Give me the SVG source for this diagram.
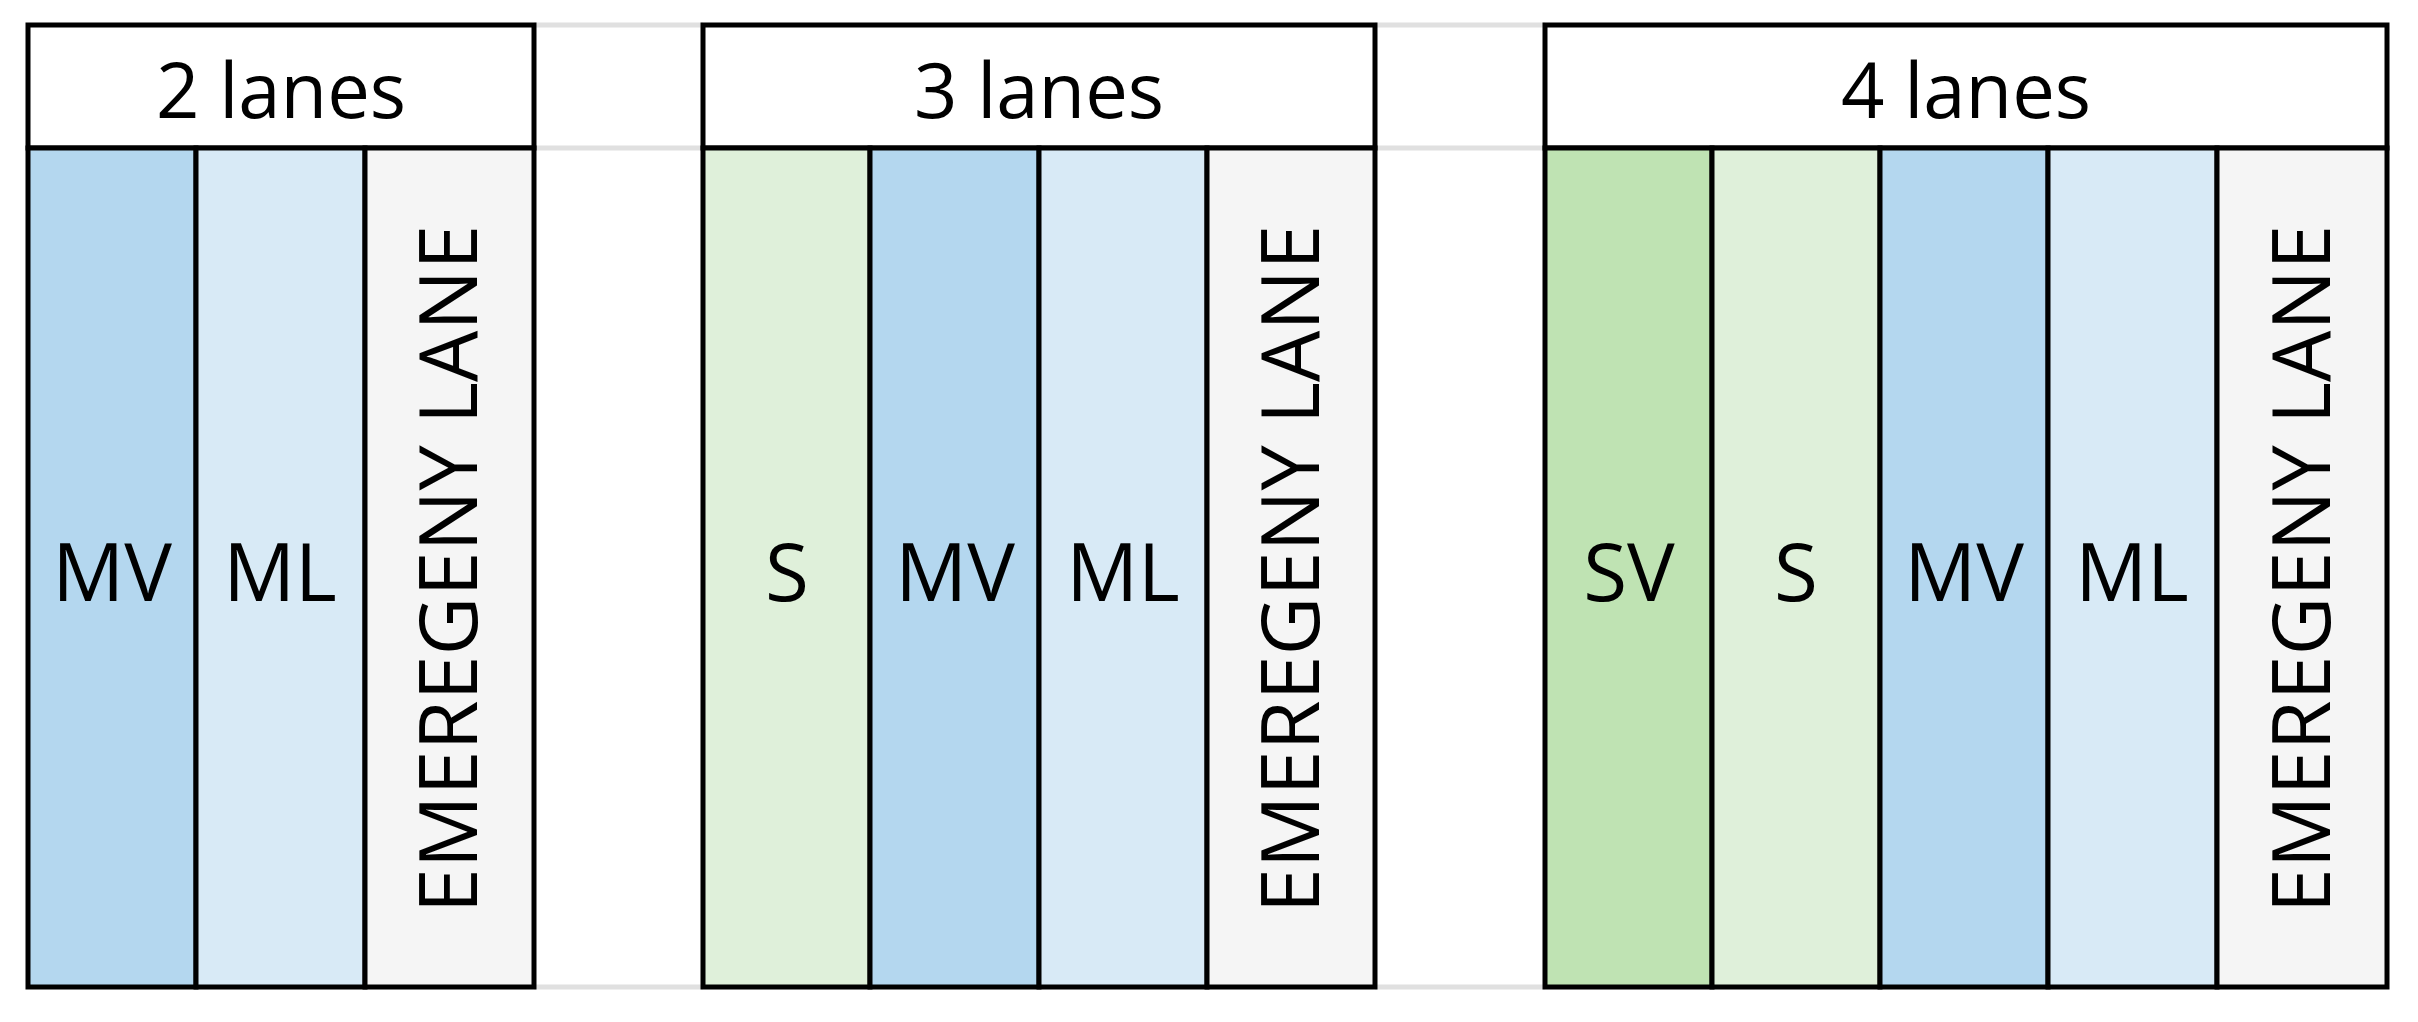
<svg xmlns="http://www.w3.org/2000/svg" width="2418" height="1022" viewBox="0 0 2418 1022">
<style>
.b{stroke:#000;stroke-width:5}
.g{stroke:#e0e0e0;stroke-width:5}
.t{font-family:"Open Sans","Liberation Sans",sans-serif;font-size:80px;fill:#000;text-anchor:middle}
.h{font-size:76px}
.e{font-size:81px}
.mv{fill:#b4d7ef}.ml{fill:#d8eaf6}.em{fill:#f5f5f5}.s{fill:#dff0da}.sv{fill:#bfe3b3}
</style>
<g id="connectors">
<line class="g" x1="534" y1="25" x2="703" y2="25"/><line class="g" x1="534" y1="148" x2="703" y2="148"/><line class="g" x1="534" y1="987" x2="703" y2="987"/>
<line class="g" x1="1375" y1="25" x2="1545" y2="25"/><line class="g" x1="1375" y1="148" x2="1545" y2="148"/><line class="g" x1="1375" y1="987" x2="1545" y2="987"/>
</g>
<g id="box1">
<rect x="28" y="25" width="506" height="123" fill="#fff" class="b"/>
<text class="t h" x="281" y="118">2 lanes</text>
<rect class="mv b" x="28" y="148" width="168" height="839"/>
<rect class="ml b" x="196" y="148" width="169" height="839"/>
<rect class="em b" x="365" y="148" width="169" height="839"/>
<text class="t" x="112" y="601">MV</text>
<text class="t" x="280" y="601">ML</text>
<text class="t e" transform="translate(477,569) rotate(-90)">EMEREGENY LANE</text>
</g>
<g id="box2">
<rect x="703" y="25" width="672" height="123" fill="#fff" class="b"/>
<text class="t h" x="1039" y="118">3 lanes</text>
<rect class="s b" x="703" y="148" width="167" height="839"/>
<rect class="mv b" x="870" y="148" width="169" height="839"/>
<rect class="ml b" x="1039" y="148" width="168" height="839"/>
<rect class="em b" x="1207" y="148" width="168" height="839"/>
<text class="t" x="787" y="601">S</text>
<text class="t" x="955" y="601">MV</text>
<text class="t" x="1123" y="601">ML</text>
<text class="t e" transform="translate(1319,569) rotate(-90)">EMEREGENY LANE</text>
</g>
<g id="box3">
<rect x="1545" y="25" width="842" height="123" fill="#fff" class="b"/>
<text class="t h" x="1966" y="118">4 lanes</text>
<rect class="sv b" x="1545" y="148" width="167" height="839"/>
<rect class="s b" x="1712" y="148" width="168" height="839"/>
<rect class="mv b" x="1880" y="148" width="168" height="839"/>
<rect class="ml b" x="2048" y="148" width="169" height="839"/>
<rect class="em b" x="2217" y="148" width="170" height="839"/>
<text class="t" x="1629" y="601">SV</text>
<text class="t" x="1796" y="601">S</text>
<text class="t" x="1964" y="601">MV</text>
<text class="t" x="2132" y="601">ML</text>
<text class="t e" transform="translate(2330,569) rotate(-90)">EMEREGENY LANE</text>
</g>
</svg>
